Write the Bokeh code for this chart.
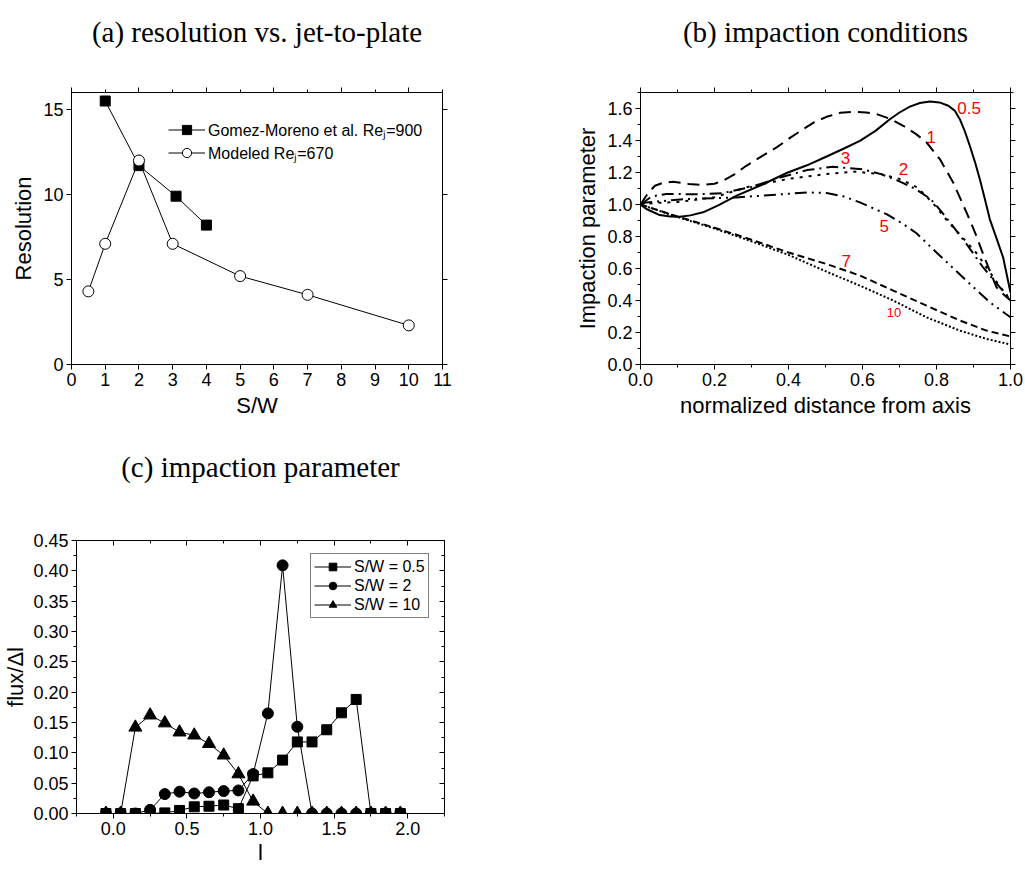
from bokeh.plotting import figure
from bokeh.models import (Range1d, LinearAxis, FixedTicker, Legend, LegendItem,
                          ColumnDataSource)
from bokeh.layouts import column, row
from bokeh.embed import file_html
from bokeh.resources import INLINE
from bokeh.core.properties import value

SANS = "Liberation Sans"
SERIF = "Liberation Serif"

# ---------------- data: (a) resolution vs. jet-to-plate ----------------
gm_sw = [1, 2, 3.1, 4]
gm_res = [15.5, 11.7, 9.9, 8.2]
mod_sw = [0.5, 1, 2, 3, 5, 7, 10]
mod_res = [4.3, 7.1, 12.0, 7.1, 5.2, 4.1, 2.3]
a_xticks = [0, 1, 2, 3, 4, 5, 6, 7, 8, 9, 10, 11]
a_xlabels = ["0", "1", "2", "3", "4", "5", "6", "7", "8", "9", "10", "11"]
a_yticks = [0, 5, 10, 15]
a_ylabels = ["0", "5", "10", "15"]

# ---------------- data: (b) impaction conditions ----------------
c05_x = [0, 0.016, 0.052, 0.08, 0.106, 0.135, 0.169, 0.21, 0.26, 0.33, 0.395, 0.45, 0.503, 0.55, 0.593, 0.635,
         0.674, 0.70, 0.728, 0.755, 0.782, 0.808, 0.832, 0.85, 0.863, 0.877, 0.89, 0.904, 0.917, 0.93, 0.944,
         0.962, 0.98, 1.0]
c05_y = [1.0, 0.972, 0.934, 0.925, 0.924, 0.932, 0.951, 0.995, 1.055, 1.125, 1.197, 1.245, 1.30, 1.35, 1.398, 1.46,
         1.533, 1.575, 1.612, 1.634, 1.644, 1.638, 1.617, 1.585, 1.533, 1.455, 1.367, 1.265, 1.159, 1.04, 0.909,
         0.79, 0.67, 0.45]
c1_x = [0, 0.02, 0.039, 0.06, 0.088, 0.13, 0.169, 0.2, 0.223, 0.255, 0.286, 0.325, 0.368, 0.405, 0.44, 0.47, 0.503,
        0.54, 0.575, 0.61, 0.638, 0.675, 0.71, 0.745, 0.773, 0.809, 0.845, 0.881, 0.905, 0.926, 0.945, 0.962, 0.98, 1.0]
c1_y = [1.0, 1.07, 1.117, 1.135, 1.142, 1.128, 1.122, 1.13, 1.149, 1.19, 1.242, 1.298, 1.357, 1.418, 1.471, 1.515,
        1.548, 1.573, 1.579, 1.575, 1.565, 1.535, 1.492, 1.44, 1.388, 1.284, 1.138, 0.951, 0.82, 0.691, 0.58, 0.483,
        0.44, 0.40]
c3_x = [0, 0.03, 0.07, 0.15, 0.22, 0.3, 0.38, 0.45, 0.52, 0.6, 0.65, 0.7, 0.745, 0.784, 0.81, 0.836, 0.881, 0.926,
        0.971, 1.0]
c3_y = [1.0, 1.05, 1.066, 1.064, 1.07, 1.11, 1.17, 1.215, 1.236, 1.22, 1.19, 1.145, 1.095, 1.034, 0.965, 0.89,
        0.753, 0.607, 0.483, 0.41]
c2_x = [0, 0.04, 0.1, 0.2, 0.29, 0.4, 0.5, 0.58, 0.65, 0.70, 0.748, 0.79, 0.829, 0.87, 0.91, 0.94, 0.973, 1.0]
c2_y = [1.0, 1.01, 1.015, 1.045, 1.11, 1.16, 1.19, 1.205, 1.19, 1.16, 1.107, 1.01, 0.899, 0.795, 0.691, 0.59,
        0.483, 0.40]
c5_x = [0, 0.016, 0.124, 0.259, 0.395, 0.45, 0.503, 0.55, 0.593, 0.665, 0.71, 0.746, 0.80, 0.881, 0.944, 1.0]
c5_y = [1.0, 1.013, 1.034, 1.044, 1.066, 1.075, 1.072, 1.05, 1.013, 0.94, 0.878, 0.82, 0.70, 0.524, 0.389, 0.295]
c7_x = [0, 0.1, 0.2, 0.3, 0.4, 0.503, 0.593, 0.683, 0.773, 0.863, 0.935, 1.0]
c7_y = [1.0, 0.925, 0.855, 0.78, 0.70, 0.628, 0.556, 0.462, 0.368, 0.275, 0.212, 0.175]
c10_x = [0, 0.1, 0.2, 0.3, 0.4, 0.503, 0.593, 0.683, 0.773, 0.863, 0.935, 1.0]
c10_y = [1.0, 0.922, 0.85, 0.77, 0.685, 0.58, 0.493, 0.40, 0.295, 0.212, 0.16, 0.125]
b_names = ["0.5", "1", "3", "2", "5", "7", "10"]
b_label_x = [0.888, 0.786, 0.554, 0.711, 0.659, 0.556, 0.685]
b_label_y = [1.606, 1.423, 1.290, 1.221, 0.868, 0.650, 0.322]
b_label_size = ["17px", "17px", "17px", "17px", "17px", "17px", "13px"]
b_xticks = [0, 0.2, 0.4, 0.6, 0.8, 1.0]
b_xlabels = ["0.0", "0.2", "0.4", "0.6", "0.8", "1.0"]
b_yticks = [0, 0.2, 0.4, 0.6, 0.8, 1.0, 1.2, 1.4, 1.6]
b_ylabels = ["0.0", "0.2", "0.4", "0.6", "0.8", "1.0", "1.2", "1.4", "1.6"]

# ---------------- data: (c) impaction parameter ----------------
l_vals = [-0.05, 0.05, 0.15, 0.25, 0.35, 0.45, 0.55, 0.65, 0.75, 0.85, 0.95,
          1.05, 1.15, 1.25, 1.35, 1.45, 1.55, 1.65, 1.75, 1.85, 1.95]
flux_sw05 = [0, 0, 0, 0, 0.001, 0.005, 0.011, 0.012, 0.014, 0.008, 0.062,
             0.067, 0.088, 0.118, 0.118, 0.138, 0.166, 0.188, 0, 0, 0]
flux_sw2 = [0, 0, 0, 0.006, 0.032, 0.036, 0.033, 0.035, 0.037, 0.038, 0.065,
            0.165, 0.409, 0.143, 0, 0, 0, 0, 0, 0, 0]
flux_sw10 = [0, 0, 0.142, 0.162, 0.149, 0.134, 0.129, 0.115, 0.096, 0.065, 0.020,
             0, 0, 0, 0, 0, 0, 0, 0, 0, 0]
c_xticks = [0, 0.5, 1.0, 1.5, 2.0]
c_xlabels = ["0.0", "0.5", "1.0", "1.5", "2.0"]
c_xminor = [-0.25, 0.25, 0.75, 1.25, 1.75, 2.25]
c_yticks = [0, 0.05, 0.10, 0.15, 0.20, 0.25, 0.30, 0.35, 0.40, 0.45]
c_ylabels = ["0.00", "0.05", "0.10", "0.15", "0.20", "0.25", "0.30", "0.35", "0.40", "0.45"]
c_yminor = [0.025, 0.075, 0.125, 0.175, 0.225, 0.275, 0.325, 0.375, 0.425]

titles = ["(a) resolution vs. jet-to-plate", "(b) impaction conditions", "(c) impaction parameter"]


def style_axis(ax, ticks, labels=None, minor=None, show=True, label_size="18px"):
    ax.ticker = FixedTicker(ticks=ticks, minor_ticks=minor or [])
    if labels is not None:
        ax.major_label_overrides = {t: l for t, l in zip(ticks, labels)}
    ax.axis_line_color = "black"
    ax.major_tick_line_color = "black"
    ax.minor_tick_line_color = "black"
    ax.major_tick_in = 0
    ax.major_tick_out = 5
    ax.minor_tick_in = 0
    ax.minor_tick_out = 3
    ax.major_label_text_font = SANS
    ax.major_label_text_font_size = label_size
    ax.major_label_text_color = "black"
    ax.major_label_standoff = 3
    ax.axis_label_text_font = SANS
    ax.axis_label_text_font_style = "normal"
    ax.axis_label_text_color = "black"
    ax.axis_label_text_font_size = "22px"
    ax.axis_label_standoff = 4
    if not show:
        ax.major_label_text_color = None
        ax.major_label_text_font_size = "1px"
        ax.major_label_standoff = 0


def title_axis(ax, text, standoff):
    # the panel caption is carried by the (tick-only) top axis
    ax.axis_label = text
    ax.axis_label_text_font = SERIF
    ax.axis_label_text_font_size = "29px"
    ax.axis_label_text_font_style = "normal"
    ax.axis_label_text_color = "black"
    ax.axis_label_standoff = standoff


def make_fig(w, h, left, right, top, bottom, xr, yr):
    p = figure(width=w, height=h, x_range=Range1d(*xr), y_range=Range1d(*yr),
               output_backend="svg", toolbar_location=None,
               min_border_left=left, min_border_right=right,
               min_border_top=top, min_border_bottom=bottom)
    p.grid.visible = False
    p.outline_line_color = "black"
    p.background_fill_color = "white"
    p.border_fill_color = "white"
    return p


# ================= panel (a) =================
pa = make_fig(560, 430, 71, 118, 92, 65, (0, 11), (0, 16))
style_axis(pa.xaxis[0], a_xticks, a_xlabels)
style_axis(pa.yaxis[0], a_yticks, a_ylabels)
pa.xaxis[0].axis_label = "S/W"
pa.yaxis[0].axis_label = "Resolution"
ta = LinearAxis()
style_axis(ta, [0, 2, 4, 6, 8, 10], minor=[1, 3, 5, 7, 9, 11], show=False)
title_axis(ta, titles[0], 40)
pa.add_layout(ta, "above")
ra = LinearAxis()
style_axis(ra, [0, 5, 10, 15], show=False)
pa.add_layout(ra, "right")

l1 = pa.line(gm_sw, gm_res, line_color="black", line_width=1)
s1 = pa.scatter(gm_sw, gm_res, marker="square", size=10, fill_color="black", line_color="black")
l2 = pa.line(mod_sw, mod_res, line_color="black", line_width=1)
s2 = pa.scatter(mod_sw, mod_res, marker="circle", size=11, fill_color="white", line_color="black", line_width=1)
leg_a = Legend(items=[LegendItem(label="Gomez-Moreno et al. Re\u2c7c=900", renderers=[l1, s1]),
                      LegendItem(label="Modeled Re\u2c7c=670", renderers=[l2, s2])],
               location=(97, 200))
leg_a.border_line_color = None
leg_a.background_fill_alpha = 0
leg_a.label_text_font = SANS
leg_a.label_text_font_size = "16px"
leg_a.label_text_color = "black"
leg_a.glyph_width = 37
leg_a.glyph_height = 23
leg_a.label_height = 23
leg_a.label_standoff = 3
leg_a.spacing = 0
leg_a.padding = 0
leg_a.margin = 0
pa.add_layout(leg_a, "center")

# ================= panel (b) =================
pb = make_fig(465, 430, 80, 15, 92, 66, (0, 1.0), (0, 1.7))
style_axis(pb.xaxis[0], b_xticks, b_xlabels, minor=[0.1, 0.3, 0.5, 0.7, 0.9])
style_axis(pb.yaxis[0], b_yticks, b_ylabels, minor=[0.1, 0.3, 0.5, 0.7, 0.9, 1.1, 1.3, 1.5, 1.7])
pb.xaxis[0].axis_label = "normalized distance from axis"
pb.yaxis[0].axis_label = "Impaction parameter"
tb = LinearAxis()
style_axis(tb, b_xticks, minor=[0.1, 0.3, 0.5, 0.7, 0.9], show=False)
title_axis(tb, titles[1], 40)
pb.add_layout(tb, "above")
rb = LinearAxis()
style_axis(rb, b_yticks, minor=[0.1, 0.3, 0.5, 0.7, 0.9, 1.1, 1.3, 1.5, 1.7], show=False)
pb.add_layout(rb, "right")

curve_specs = [
    (c05_x, c05_y, "solid"),
    (c1_x, c1_y, "12 7"),
    (c3_x, c3_y, "12 5 2 5"),
    (c2_x, c2_y, "3 6"),
    (c5_x, c5_y, "12 5 2 5 2 5"),
    (c7_x, c7_y, "7 4"),
    (c10_x, c10_y, "2 2"),
]
for cx, cy, dash in curve_specs:
    pb.line(cx, cy, line_color="black", line_width=2, line_dash=dash)

lab_src = ColumnDataSource(dict(x=b_label_x, y=b_label_y, t=b_names, s=b_label_size))
pb.text(x="x", y="y", text="t", source=lab_src, text_color="red",
        text_font=value(SANS), text_font_size="s", text_align="center",
        text_baseline="middle")

# ================= panel (c) =================
pc = make_fig(460, 443, 72, 16, 110, 60, (-0.25, 2.25), (0, 0.45))
style_axis(pc.xaxis[0], c_xticks, c_xlabels, minor=c_xminor)
style_axis(pc.yaxis[0], c_yticks, c_ylabels, minor=c_yminor)
pc.xaxis[0].axis_label = "l"
pc.yaxis[0].axis_label = "flux/\u0394l"
pc.yaxis[0].axis_label_standoff = 2
pc.xaxis[0].axis_label_standoff = 2
tc = LinearAxis()
style_axis(tc, c_xticks, minor=c_xminor, show=False)
tc.major_tick_in = 5
tc.major_tick_out = 0
tc.minor_tick_in = 3
tc.minor_tick_out = 0
title_axis(tc, titles[2], 58)
pc.add_layout(tc, "above")
rc = LinearAxis()
style_axis(rc, c_yticks, minor=c_yminor, show=False)
rc.major_tick_in = 5
rc.major_tick_out = 0
rc.minor_tick_in = 3
rc.minor_tick_out = 0
pc.add_layout(rc, "right")

lc1 = pc.line(l_vals, flux_sw05, line_color="black", line_width=1)
sc1 = pc.scatter(l_vals, flux_sw05, marker="square", size=10, fill_color="black", line_color="black")
lc2 = pc.line(l_vals, flux_sw2, line_color="black", line_width=1)
sc2 = pc.scatter(l_vals, flux_sw2, marker="circle", size=11, fill_color="black", line_color="black")
lc3 = pc.line(l_vals, flux_sw10, line_color="black", line_width=1)
sc3 = pc.scatter(l_vals, flux_sw10, marker="triangle", size=13, fill_color="black", line_color="black")
leg_c = Legend(items=[LegendItem(label="S/W = 0.5", renderers=[lc1, sc1]),
                      LegendItem(label="S/W = 2", renderers=[lc2, sc2]),
                      LegendItem(label="S/W = 10", renderers=[lc3, sc3])],
               location=(234, 195))
leg_c.border_line_color = "black"
leg_c.border_line_width = 1
leg_c.background_fill_color = "white"
leg_c.background_fill_alpha = 1
leg_c.label_text_font = SANS
leg_c.label_text_font_size = "16px"
leg_c.label_text_color = "black"
leg_c.glyph_width = 37
leg_c.glyph_height = 19
leg_c.label_height = 19
leg_c.label_standoff = 3
leg_c.spacing = 0
leg_c.padding = 3
leg_c.margin = 0
pc.add_layout(leg_c, "center")

layout = column(row(pa, pb), pc)
open("out.html", "w").write(file_html(layout, INLINE))
